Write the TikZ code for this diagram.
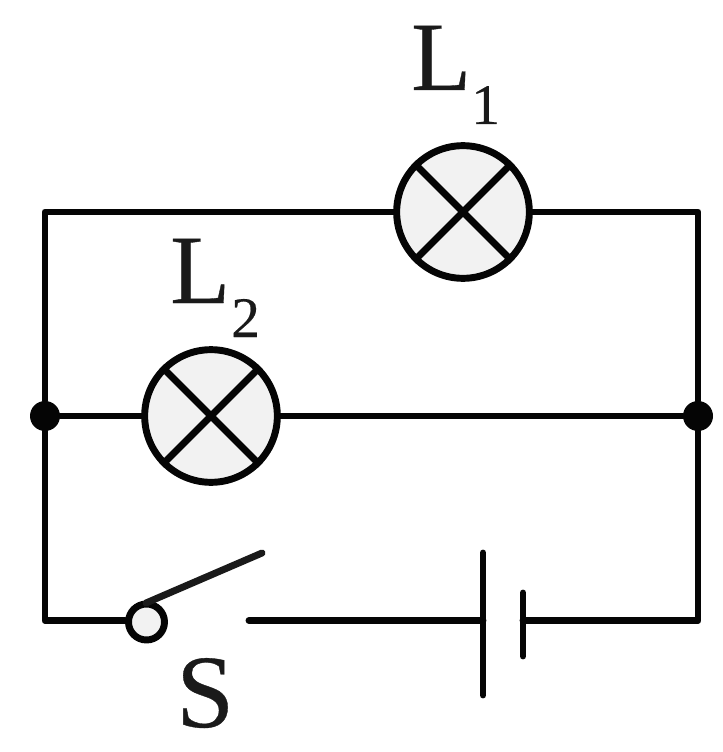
\documentclass[tikz,border=0pt]{standalone}
\usepackage{fontspec}
\newfontfamily\lblfont[FakeBold=0.35]{Liberation Serif}
\definecolor{ink}{HTML}{050505}
\definecolor{soft}{HTML}{1A1A1A}
\definecolor{lampfill}{HTML}{F2F2F2}
\tikzset{
 wire/.style={line width=5.2pt,line cap=round,line join=round,draw=ink},
 lamp/.style={circle,draw=ink,fill=lampfill,line width=5.2pt,minimum size=99.5pt,inner sep=0pt},
 contact/.style={circle,draw=ink,fill=lampfill,line width=5.2pt,minimum size=27pt,inner sep=0pt},
 dot/.style={circle,fill=ink,minimum size=22.5pt,inner sep=0pt},
 lbl/.style={inner sep=0pt,text=soft,font=\lblfont\fontsize{73.5}{73.5}\selectfont},
 sub/.style={inner sep=0pt,text=soft,font=\lblfont\fontsize{43}{43}\selectfont}
}
\begin{document}
\begin{tikzpicture}[x=0.75pt,y=-0.75pt]
\useasboundingbox (0,0) rectangle (722,752);
\coordinate (tl) at (45,212);
\coordinate (tr) at (698,212);
\coordinate (bl) at (45,620.5);
\coordinate (br) at (698,620.5);
\node[dot] (j1) at (45,416) {};
\node[dot] (j2) at (698,416) {};
\coordinate (s1) at (249,620.5);
\coordinate (sblade) at (262,553);
\coordinate (sroot) at (146,603);
\coordinate (b1) at (483,620.5);
\coordinate (b2) at (523,620.5);
\coordinate (b1t) at (483,553);
\coordinate (b1b) at (483,695);
\coordinate (b2t) at (523,593);
\coordinate (b2b) at (523,656);
\node[lamp] (l1) at (463,212) {};
\node[lamp] (l2) at (211,416) {};
\node[contact] (sw) at (146.5,622) {};
\draw[wire] (l1) -- (tl) -- (j1);
\draw[wire] (l1) -- (tr) -- (j2);
\draw[wire] (j1) -- (l2);
\draw[wire] (l2) -- (j2);
\draw[wire] (j1) -- (bl) -- (sw.west |- bl);
\draw[wire] (s1) -- (b1);
\draw[wire] (b2) -- (br) -- (j2);
\draw[wire] (b1t) -- (b1b);
\draw[wire] (b2t) -- (b2b);
\draw[wire,draw=soft] (sroot) -- (sblade);
\foreach \n in {l1,l2}{
 \draw[wire,line cap=butt] (\n.45) -- (\n.225);
 \draw[wire,line cap=butt] (\n.135) -- (\n.315);
}
\node[lbl,anchor=base west] (t1) at (411,90) {L};
\node[sub,anchor=base west] (t1s) at (471,124) {1};
\node[lbl,anchor=base west] (t2) at (170,303) {L};
\node[sub,anchor=base west] (t2s) at (231,337) {2};
\node[lbl,anchor=base west,font=\lblfont\fontsize{78}{78}\selectfont] (t3) at (176,727) {S};
\end{tikzpicture}
\end{document}
